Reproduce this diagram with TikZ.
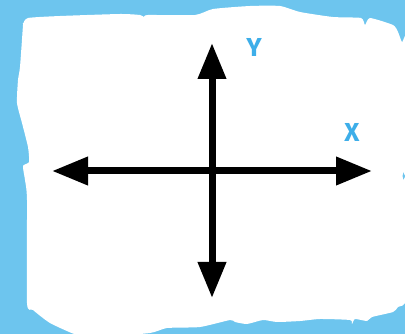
\documentclass[tikz,border=0pt]{standalone}
\usepackage{fontspec}
\setmainfont{Fira Sans}
\usetikzlibrary{arrows.meta}
\definecolor{bgblue}{HTML}{6DC5EE}
\definecolor{lblblue}{HTML}{3DAEE9}
\tikzset{
  axis/.style={line width=7pt, {Triangle[length=36pt,width=27pt]}-{Triangle[length=36pt,width=27pt]}},
  axlabel/.style={text=lblblue, font=\bfseries\fontsize{26}{26}\selectfont, inner sep=0pt, anchor=center}
}
\begin{document}
\begin{tikzpicture}[x=1pt,y=-1pt]
\useasboundingbox (0,0) rectangle (405,334);
\fill[bgblue] (0,0) rectangle (405,334);
% paper
\fill[white] plot[smooth cycle, tension=0.35] coordinates {
 (23,24) (28,18) (60,16) (120,14) (140,15) (144,17) (148,15) (195,15) (213,9) (250,6) (280,6) (300,12)
 (333,17) (361,18) (365,25) (370,18) (393,25) (398,32) (402,42) (407,40)
 (407,170) (403,172) (403,180) (407,182) (407,296)
 (398,307) (393,312) (372,317) (367,321) (355,319) (352,324) (350,320) (320,319) (300,321)
 (277,322) (263,320) (247,324) (235,322) (230,320) (200,327) (167,328) (150,333) (100,337) (77,335)
 (50,323) (33,310) (27,303) (27,200) (25,180) (23,166) (29,162) (28,147) (22,123) (17,103) (18,80) (20,67) (23,25)
};
% axes
\coordinate (L) at (52,171);
\coordinate (R) at (372,171);
\coordinate (T) at (212,43);
\coordinate (B) at (212,298);
\draw[axis] (L) -- (R);
\draw[axis] (B) -- (T);
\node[axlabel] (ylab) at (254,47) {Y};
\node[axlabel] (xlab) at (352,132) {X};
\end{tikzpicture}
\end{document}
